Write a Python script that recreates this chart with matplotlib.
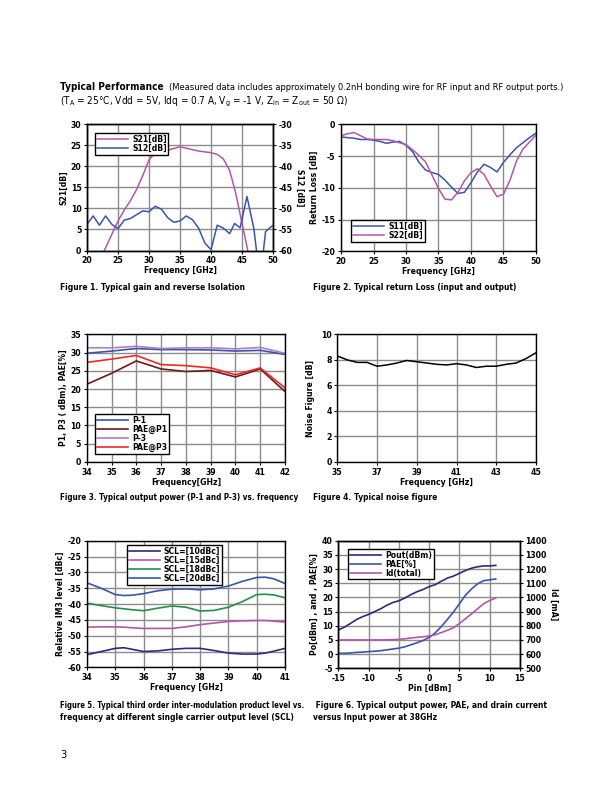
import matplotlib
matplotlib.use("Agg")
import matplotlib.pyplot as plt
from matplotlib import font_manager

# --- fonts: the datasheet uses a condensed face; take one if installed
COND = ("condensed", "semi-condensed", "extra-condensed", "ultra-condensed")
FONT, STRETCH = "Liberation Sans", "normal"
for f in font_manager.fontManager.ttflist:
    if f.stretch in COND or "Narrow" in f.name or "Condensed" in f.name:
        FONT, STRETCH = f.name, f.stretch
        break
plt.rcParams["font.family"] = [FONT, "DejaVu Sans"]
plt.rcParams["font.stretch"] = STRETCH
plt.rcParams["mathtext.fontset"] = "custom"
plt.rcParams["mathtext.rm"] = FONT
plt.rcParams["axes.unicode_minus"] = False
plt.rcParams["axes.linewidth"] = 1.0

# --- Figure 1: gain and reverse isolation
f1_s21 = [22, 25, 26, 27, 28, 29, 30, 31, 32, 33, 34, 35, 36, 37, 38, 39, 40, 41, 42, 43, 44, 45, 46]
s21 = [-2.5, 7.0, 9.6, 11.8, 14.5, 17.8, 21.5, 23.2, 23.5, 23.8, 24.2, 24.6, 24.3, 23.9, 23.6, 23.4,
       23.2, 22.8, 21.7, 19.0, 13.5, 6.5, -0.5]
f1_s12 = [20, 21, 22, 23, 24, 25, 26, 27, 28, 29, 30, 31, 32, 33, 34, 35, 36, 37, 38, 39, 40, 41, 42,
          43, 43.8, 44.7, 45.8, 46.9, 47.5, 48.3, 48.8, 50]
s12 = [-53.8, -51.8, -54.0, -51.8, -53.8, -54.8, -52.8, -52.4, -51.5, -50.6, -50.8, -49.5, -50.2,
       -52.2, -53.3, -53.0, -51.8, -52.7, -54.7, -58.2, -59.8, -54.0, -54.7, -56.0, -53.6, -54.6,
       -47.2, -54.7, -62.0, -62.0, -55.5, -54.0]

# --- Figure 2: return loss
f2 = list(range(20, 51))
s11 = [-2.0, -2.1, -2.2, -2.4, -2.4, -2.5, -2.7, -3.0, -2.8, -2.7, -3.3, -4.3, -6.0, -7.2, -7.6,
       -7.9, -8.8, -9.9, -10.9, -10.7, -9.2, -7.5, -6.3, -6.8, -7.5, -6.0, -4.8, -3.7, -2.9, -2.1, -1.4]
s22 = [-1.8, -1.5, -1.3, -1.8, -2.3, -2.4, -2.4, -2.4, -2.6, -2.9, -3.2, -4.0, -4.9, -5.9, -8.0,
       -10.1, -11.8, -11.9, -10.7, -8.9, -7.6, -7.0, -7.9, -9.7, -11.4, -11.0, -8.8, -5.8, -3.9, -2.8, -1.7]

# --- Figure 3: output power vs frequency
f3 = [34, 35, 36, 37, 38, 39, 40, 41, 42]
p1 = [29.8, 30.4, 31.1, 30.8, 30.8, 30.7, 30.4, 30.6, 29.5]
pae_p1 = [21.3, 24.3, 27.7, 25.5, 24.8, 25.1, 23.3, 25.5, 19.3]
p3 = [31.3, 31.3, 31.7, 31.1, 31.3, 31.3, 31.0, 31.4, 29.8]
pae_p3 = [27.3, 28.2, 29.2, 26.7, 26.4, 25.8, 23.9, 25.8, 20.3]

# --- Figure 4: noise figure
f4 = [35, 35.5, 36, 36.5, 37, 37.5, 38, 38.5, 39, 39.5, 40, 40.5, 41, 41.5, 42, 42.5, 43, 43.5, 44, 44.5, 45]
nf = [8.3, 8.0, 7.8, 7.8, 7.5, 7.6, 7.75, 7.95, 7.85, 7.75, 7.65, 7.6, 7.7, 7.6, 7.4, 7.5, 7.5,
      7.65, 7.75, 8.1, 8.55]

# --- Figure 5: IM3 vs frequency
f5 = [34, 34.5, 35, 35.3, 35.6, 36, 36.5, 37, 37.5, 38, 38.5, 39, 39.5, 40, 40.3, 40.6, 41]
im3_10 = [-56.0, -55.0, -54.0, -53.8, -54.3, -55.0, -54.8, -54.3, -54.0, -54.0, -54.7, -55.5,
          -55.8, -55.8, -55.5, -54.9, -54.0]
im3_15 = [-47.3, -47.2, -47.2, -47.3, -47.5, -47.7, -47.7, -47.7, -47.2, -46.5, -46.0, -45.5,
          -45.3, -45.2, -45.2, -45.4, -45.7]
im3_18 = [-39.7, -40.5, -41.2, -41.5, -41.8, -42.1, -41.3, -40.6, -41.0, -42.2, -42.0, -41.0,
          -39.2, -37.0, -36.9, -37.1, -38.0]
im3_20 = [-33.3, -35.0, -37.0, -37.3, -37.2, -36.7, -35.8, -35.3, -35.2, -35.5, -35.2, -34.3,
          -32.8, -31.6, -31.5, -32.0, -33.5]
scl_labels = ["SCL=[10dBc]", "SCL=[15dBc]", "SCL=[18dBc]", "SCL=[20dBc]"]

# --- Figure 6: power sweep at 38GHz
pin = list(range(-15, 12))
pout = [8.5, 9.5, 10.8, 12.2, 13.2, 14.0, 15.0, 16.0, 17.2, 18.2, 18.8, 19.8, 21.0, 22.0, 22.8,
        23.8, 24.5, 25.7, 26.8, 27.5, 28.5, 29.5, 30.3, 30.8, 31.1, 31.1, 31.3]
pae = [0.3, 0.3, 0.4, 0.6, 0.7, 0.9, 1.0, 1.2, 1.5, 1.8, 2.1, 2.6, 3.3, 4.0, 4.8, 5.9, 7.5, 9.7,
       12.2, 14.8, 17.8, 20.8, 23.0, 24.8, 25.9, 26.2, 26.5]
id_total = [700, 700, 700, 700, 700, 700, 700, 700, 701, 702, 704, 708, 714, 718, 722, 728, 736,
            752, 768, 786, 816, 850, 884, 920, 956, 978, 996]

# colours
BLUE = "#3a55a8"
MAG = "#b356ab"
DRED = "#6e1a1a"
RED = "#ee2a24"
NAVY = "#2e2a78"
GREEN = "#1f9148"
LPURP = "#b07cc6"
GRID = "#8c8c8c"

TS = 6.2  # tick label size
LAB = dict(fontsize=6.2, fontweight="bold")

fig = plt.figure(figsize=(6.12, 7.92), dpi=100)


def bold_ticks(ax):
    ax.tick_params(length=2.5, width=0.8, pad=1.5, labelsize=TS)
    for lbl in ax.get_xticklabels() + ax.get_yticklabels():
        lbl.set_fontweight("bold")


def style(ax):
    ax.grid(True, color=GRID, lw=1.0)
    ax.set_axisbelow(True)
    bold_ticks(ax)


def legend(ax, **kw):
    lg = ax.legend(frameon=True, fancybox=False, edgecolor="black",
                   handlelength=3.6, handletextpad=0.5, borderpad=0.2,
                   labelspacing=0.0, framealpha=1, prop=dict(weight="bold", size=6.2), **kw)
    lg.get_frame().set_linewidth(1.0)
    return lg


# Figure 1
ax1 = fig.add_axes([0.1422, 0.6837, 0.3039, 0.1597])
l1, = ax1.plot(f1_s21, s21, color=MAG, lw=1.1, label="S21[dB]")
ax1.set_xlim(20, 50)
ax1.set_ylim(0, 30)
ax1.set_xticks(range(20, 51, 5))
ax1.set_yticks(range(0, 31, 5))
ax1.set_xlabel("Frequency [GHz]", labelpad=1, **LAB)
ax1.set_ylabel("S21[dB]", labelpad=2, **LAB)
style(ax1)
ax1b = ax1.twinx()
l2, = ax1b.plot(f1_s12, s12, color=BLUE, lw=1.1, label="S12[dB]")
ax1b.set_ylim(-60, -30)
ax1b.set_yticks(range(-60, -29, 5))
bold_ticks(ax1b)
ax1b.set_ylabel("S12 [dB]", rotation=270, labelpad=8, **LAB)
legend(ax1b, handles=[l1, l2], loc="upper left", bbox_to_anchor=(0.02, 0.96))

# Figure 2
ax2 = fig.add_axes([0.5572, 0.6827, 0.3186, 0.1604])
ax2.plot(f2, s11, color=BLUE, lw=1.1, label="S11[dB]")
ax2.plot(f2, s22, color=MAG, lw=1.1, label="S22[dB]")
ax2.set_xlim(20, 50)
ax2.set_ylim(-20, 0)
ax2.set_xticks(range(20, 51, 5))
ax2.set_yticks(range(-20, 1, 5))
ax2.set_xlabel("Frequency [GHz]", labelpad=1, **LAB)
ax2.set_ylabel("Return Loss [dB]", labelpad=2, **LAB)
style(ax2)
legend(ax2, loc="lower left", bbox_to_anchor=(0.03, 0.04))

# Figure 3
ax3 = fig.add_axes([0.1417, 0.4167, 0.324, 0.1612])
ax3.plot(f3, p1, color=BLUE, lw=1.2, label="P-1")
ax3.plot(f3, pae_p1, color=DRED, lw=1.2, label="PAE@P1")
ax3.plot(f3, p3, color=LPURP, lw=1.2, label="P-3")
ax3.plot(f3, pae_p3, color=RED, lw=1.2, label="PAE@P3")
ax3.set_xlim(34, 42)
ax3.set_ylim(0, 35)
ax3.set_xticks(range(34, 43))
ax3.set_yticks(range(0, 36, 5))
ax3.set_xlabel("Frequency[GHz]", labelpad=1, **LAB)
ax3.set_ylabel("P1, P3 ( dBm), PAE[%]", labelpad=2, **LAB)
style(ax3)
legend(ax3, loc="lower left", bbox_to_anchor=(0.02, 0.03))

# Figure 4
ax4 = fig.add_axes([0.5511, 0.4167, 0.3247, 0.1612])
ax4.plot(f4, nf, color="black", lw=1.1)
ax4.set_xlim(35, 45)
ax4.set_ylim(0, 10)
ax4.set_xticks(range(35, 46, 2))
ax4.set_yticks(range(0, 11, 2))
ax4.set_xlabel("Frequency [GHz]", labelpad=1, **LAB)
ax4.set_ylabel("Noise Figure [dB]", labelpad=4, **LAB)
style(ax4)

# Figure 5
ax5 = fig.add_axes([0.1422, 0.1574, 0.3235, 0.1598])
for ys, c, lb in zip([im3_10, im3_15, im3_18, im3_20], [NAVY, MAG, GREEN, BLUE], scl_labels):
    ax5.plot(f5, ys, color=c, lw=1.2, label=lb)
ax5.set_xlim(34, 41)
ax5.set_ylim(-60, -20)
ax5.set_xticks(range(34, 42))
ax5.set_yticks(range(-60, -19, 5))
ax5.set_xlabel("Frequency [GHz]", labelpad=1, **LAB)
ax5.set_ylabel("Relative IM3 level [dBc]", labelpad=2, **LAB)
style(ax5)
legend(ax5, loc="upper left", bbox_to_anchor=(0.18, 1.0))

# Figure 6
ax6 = fig.add_axes([0.5528, 0.1562, 0.2969, 0.1611])
h1, = ax6.plot(pin, pout, color=NAVY, lw=1.2, label="Pout(dBm)")
h2, = ax6.plot(pin, pae, color=BLUE, lw=1.2, label="PAE[%]")
ax6.set_xlim(-15, 15)
ax6.set_ylim(-5, 40)
ax6.set_xticks(range(-15, 16, 5))
ax6.set_yticks(range(-5, 41, 5))
ax6.set_xlabel("Pin [dBm]", labelpad=1, **LAB)
ax6.set_ylabel("Po[dBm] , and , PAE[%]", labelpad=2, **LAB)
style(ax6)
ax6b = ax6.twinx()
h3, = ax6b.plot(pin, id_total, color=MAG, lw=1.2, label="Id(total)")
ax6b.set_ylim(500, 1400)
ax6b.set_yticks(range(500, 1401, 100))
bold_ticks(ax6b)
ax6b.set_ylabel("Id [mA]", rotation=270, labelpad=8, **LAB)
legend(ax6b, handles=[h1, h2, h3], loc="upper left", bbox_to_anchor=(0.03, 0.97))

# --- page text; each string is shrunk if it runs past the room it has on the page
renderer = fig.canvas.get_renderer()


def ftext(x, y, s, width=None, size=7.0, **kw):
    t = fig.text(x / 612, 1 - y / 792, s, va="center", ha="left", fontsize=size, **kw)
    if width is not None:
        w = t.get_window_extent(renderer).width
        if w > width:
            t.set_fontsize(size * width / w)
    return t


title = ftext(60, 87, "Typical Performance", 104, 9, fontweight="bold")
x_end = title.get_window_extent(renderer).x1
ftext(x_end + 5, 87, "(Measured data includes approximately 0.2nH bonding wire for RF input and RF output ports.)",
      566 - x_end - 5, 7.2)
ftext(60, 102, r"(T$_\mathrm{A}$ = 25°C, Vdd = 5V, Idq = 0.7 A, V$_\mathrm{g}$ = -1 V, "
      r"Z$_\mathrm{in}$ = Z$_\mathrm{out}$ = 50 Ω)", 300, 7.2)

cap = dict(fontweight="bold")
CS = 6.0
ftext(60, 288, "Figure 1. Typical gain and reverse Isolation", 215, CS, **cap)
ftext(313, 288, "Figure 2. Typical return Loss (input and output)", 240, CS, **cap)
ftext(60, 498, "Figure 3. Typical output power (P-1 and P-3) vs. frequency", 240, CS, **cap)
ftext(313, 498, "Figure 4. Typical noise figure", 200, CS, **cap)
ftext(60, 706, "Figure 5. Typical third order inter-modulation product level vs.", 246, CS, **cap)
ftext(60, 717, "frequency at different single carrier output level (SCL)", 246, CS, **cap)
ftext(313, 706, " Figure 6. Typical output power, PAE, and drain current", 280, CS, **cap)
ftext(313, 717, "versus Input power at 38GHz", 280, CS, **cap)
ftext(60, 755, "3", size=8)

fig.savefig("out.png", dpi=100)
